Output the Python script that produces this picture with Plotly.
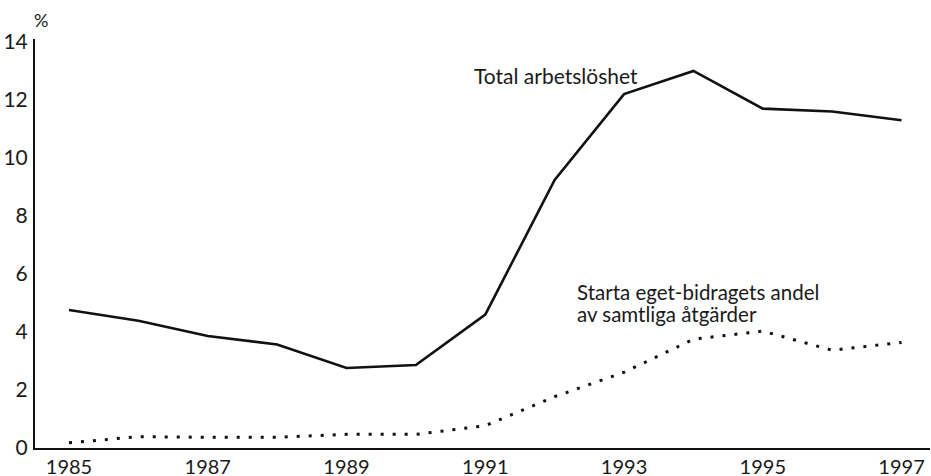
import plotly.graph_objects as go

years = list(range(1985, 1998))
total_unemployment = [4.76, 4.39, 3.86, 3.57, 2.76, 2.86, 4.6, 9.24, 12.2, 13.0, 11.7, 11.6, 11.3]
starta_eget_share = [0.18, 0.39, 0.37, 0.37, 0.47, 0.47, 0.77, 1.77, 2.61, 3.75, 4.03, 3.37, 3.64]
x_ticks = [1985, 1987, 1989, 1991, 1993, 1995, 1997]
y_ticks = [0, 2, 4, 6, 8, 10, 12, 14]

FONT = "Lato"
INK = "#1a1a1a"

fig = go.Figure()
fig.add_trace(go.Scatter(x=years, y=total_unemployment, mode="lines",
                         line=dict(color="#111111", width=2.6), showlegend=False))
fig.add_trace(go.Scatter(x=years, y=starta_eget_share, mode="lines",
                         line=dict(color="#111111", width=3, dash="3px,9px"), showlegend=False))

ann_font = dict(family=FONT, size=20.5, color=INK)
fig.add_annotation(x=1990.81, y=12.83, xref="x", yref="y", text="Total arbetslöshet",
                   showarrow=False, xanchor="left", yanchor="middle",
                   font=dict(family=FONT, size=21, color=INK))
fig.add_annotation(x=1992.29, y=5.38, xref="x", yref="y", text="Starta eget-bidragets andel",
                   showarrow=False, xanchor="left", yanchor="middle", font=ann_font)
fig.add_annotation(x=1992.29, y=4.62, xref="x", yref="y", text="av samtliga åtgärder",
                   showarrow=False, xanchor="left", yanchor="middle", font=ann_font)
fig.add_annotation(x=0, y=1, xref="paper", yref="paper", text="%", showarrow=False,
                   xanchor="left", yanchor="bottom", xshift=-3, yshift=6,
                   font=dict(family=FONT, size=18, color=INK))

fig.update_layout(
    template="none",
    width=931, height=476,
    margin=dict(l=35, r=1, t=39, b=28),
    paper_bgcolor="white", plot_bgcolor="white",
    font=dict(family=FONT, size=21, color=INK),
    xaxis=dict(range=[1984.51, 1997.41], tickvals=x_ticks, ticktext=[str(v) for v in x_ticks],
               showgrid=False, zeroline=False, showline=True, linecolor="#111111", linewidth=2,
               ticks="", ticklabelstandoff=0, automargin=False,
               tickfont=dict(family=FONT, size=20, color=INK)),
    yaxis=dict(range=[0, 14.1], tickvals=y_ticks, ticktext=[str(v) for v in y_ticks],
               showgrid=False, zeroline=False, showline=True, linecolor="#111111", linewidth=2,
               ticks="", ticklabelstandoff=1, automargin=False),
)

fig.write_html("out.html", config={"displayModeBar": False},
               post_script="document.body.style.margin='0';")
